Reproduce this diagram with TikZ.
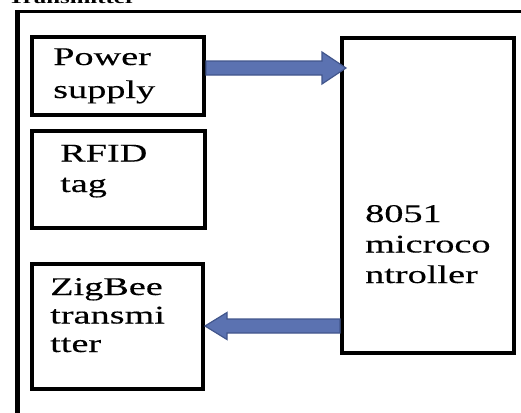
\documentclass[tikz,border=0pt]{standalone}
\usepackage{fontspec}
\setmainfont{Liberation Serif}
\newfontfamily\boxfont[FakeStretch=1.5,FakeBold=0.3]{Liberation Serif}
\newfontfamily\titlefont[FakeStretch=1.46]{Liberation Serif Bold}
\definecolor{arrowfill}{RGB}{91,114,177}
\definecolor{arrowedge}{RGB}{66,86,140}
\tikzset{
  blockbox/.style={draw=black, line width=4pt, rectangle, inner sep=0pt},
  blocktext/.style={anchor=base west, inner sep=0pt, align=left,
    font=\boxfont\fontsize{25.5}{30.5}\selectfont},
  fatarrow/.style={fill=arrowfill, draw=arrowedge, line width=1.2pt, line join=miter},
  frameline/.style={draw=black}
}
\begin{document}
\begin{tikzpicture}[x=1pt,y=-1pt]
\useasboundingbox (0,0) rectangle (521,412);
\clip (0,0) rectangle (521,412);
% title (cut off at top, as in the reference)
\node[anchor=base west, inner sep=0pt, font=\titlefont\fontsize{17}{20}\selectfont] (title) at (8,4) {Transmitter};
% outer frame
\coordinate (fTL) at (17,12);
\coordinate (fTR) at (530,12);
\coordinate (fBL) at (17,420);
\draw[frameline, line width=3pt] (fTL) -- (fTR);
\draw[frameline, line width=5pt] (fBL) -- ([yshift=1.5pt]fTL);
% boxes
\node[blockbox, anchor=north west, minimum width=172pt, minimum height=78pt] (pwr) at (30,35) {};
\node[blockbox, anchor=north west, minimum width=173pt, minimum height=97pt] (rfid) at (30,129) {};
\node[blockbox, anchor=north west, minimum width=171pt, minimum height=125pt] (zig) at (30,262) {};
\node[blockbox, anchor=north west, minimum width=172pt, minimum height=315pt] (mcu) at (340,36) {};
% texts (anchor = baseline of last line)
\node[blocktext, font=\boxfont\fontsize{25.5}{33}\selectfont] (pwrt) at (53,98) {Power\\supply};
\node[blocktext] (rfidt) at (60,192) {RFID\\tag};
\node[blocktext, font=\boxfont\fontsize{25.5}{28.5}\selectfont] (zigt) at (50,352) {ZigBee\\transmi\\tter};
\node[blocktext] (mcut) at (365,283) {8051\\microco\\ntroller};
% arrows
\coordinate (a1s) at (pwr.east |- 0,68);
\coordinate (a1t) at (346,68);
\draw[fatarrow] ([yshift=-7pt]a1s) -- ([xshift=-24pt,yshift=-7pt]a1t) -- ([xshift=-24pt,yshift=-16pt]a1t)
  -- (a1t) -- ([xshift=-24pt,yshift=16pt]a1t) -- ([xshift=-24pt,yshift=7pt]a1t) -- ([yshift=7pt]a1s) -- cycle;
\coordinate (a2s) at (mcu.west |- 0,326);
\coordinate (a2t) at (zig.east |- 0,326);
\draw[fatarrow] ([yshift=-7pt]a2s) -- ([xshift=22pt,yshift=-7pt]a2t) -- ([xshift=22pt,yshift=-13.5pt]a2t)
  -- (a2t) -- ([xshift=22pt,yshift=13.5pt]a2t) -- ([xshift=22pt,yshift=7pt]a2t) -- ([yshift=7pt]a2s) -- cycle;
\end{tikzpicture}
\end{document}
